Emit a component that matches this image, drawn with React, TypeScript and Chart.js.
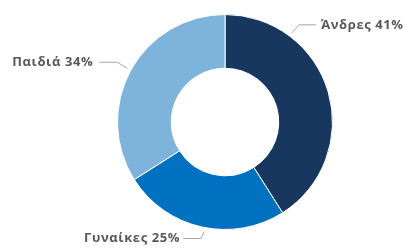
import React, { useEffect, useRef } from "react";
import { Chart, registerables } from "chart.js";

Chart.register(...registerables);

const categories = ["Άνδρες", "Γυναίκες", "Παιδιά"];
const values = [41, 25, 34];
const colors = ["#17375e", "#0070c0", "#7eb3dc"];

// label layout styling (fraction along slice for the leader anchor, elbow offsets, side)
const labelAnchorFrac = [0.25, 0.48, 0.5];
const labelElbow = [
  [7, -8],
  [-3, 7],
  [-10, -6],
];
const labelSide = [1, -1, -1];
const labelLen = [17, 18, 18];
const labelGap = [5, 3, 6];

const labelPlugin = {
  id: "outLabels",
  afterDatasetsDraw(chart: any) {
    const ctx = chart.ctx;
    const meta = chart.getDatasetMeta(0);
    ctx.save();
    ctx.font = "bold 13px 'Open Sans'";
    try {
      (ctx as any).letterSpacing = "0.6px";
    } catch (e) {}
    ctx.textBaseline = "middle";
    meta.data.forEach((arc: any, i: number) => {
      const p = arc.getProps(["x", "y", "startAngle", "endAngle", "outerRadius"], true);
      const a = p.startAngle + labelAnchorFrac[i] * (p.endAngle - p.startAngle);
      const r = p.outerRadius + 4;
      const ax = p.x + Math.cos(a) * r;
      const ay = p.y + Math.sin(a) * r;
      const ex = ax + labelElbow[i][0];
      const ey = ay + labelElbow[i][1];
      const hx = ex + labelSide[i] * labelLen[i];
      ctx.strokeStyle = "#a6a6a6";
      ctx.lineWidth = 1;
      ctx.beginPath();
      ctx.moveTo(ax, ay);
      ctx.lineTo(ex, ey);
      ctx.lineTo(hx, ey);
      ctx.stroke();
      ctx.fillStyle = "#595959";
      ctx.textAlign = labelSide[i] > 0 ? "left" : "right";
      ctx.fillText(categories[i] + " " + values[i] + "%", hx + labelSide[i] * labelGap[i], ey);
    });
    ctx.restore();
  },
};

export default function App() {
  const ref = useRef<HTMLCanvasElement>(null);
  useEffect(() => {
    const chart = new Chart(ref.current!, {
      type: "doughnut",
      data: {
        labels: categories,
        datasets: [
          {
            data: values,
            backgroundColor: colors,
            borderColor: "#ffffff",
            borderWidth: 1,
          },
        ],
      },
      options: {
        animation: false,
        responsive: false,
        cutout: "50%",
        layout: { padding: { top: 14, bottom: 21, left: 117, right: 74 } },
        plugins: { legend: { display: false }, tooltip: { enabled: false } },
      },
      plugins: [labelPlugin],
    });
    return () => chart.destroy();
  }, []);
  return (
    <div style={{ position: "absolute", left: 0, top: 0, width: 407, height: 251, background: "#fff" }}>
      <canvas ref={ref} width={407} height={251} />
    </div>
  );
}
